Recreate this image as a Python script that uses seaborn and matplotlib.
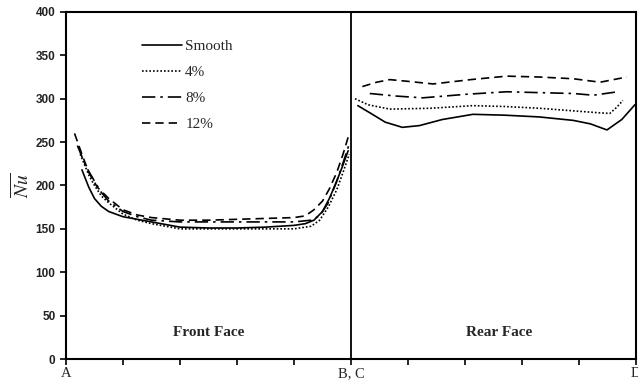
import numpy as np
import pandas as pd
import matplotlib
matplotlib.use("Agg")
import matplotlib.pyplot as plt
import seaborn as sns

sns.set_style("white")
plt.rcParams['mathtext.fontset'] = 'stix'

# ---- data (x in units along surface: A=0, B/C=5, D=10) ----
front_smooth_x = [0.28, 0.4, 0.5, 0.62, 0.75, 1.0, 1.25, 1.5, 2.0, 2.5, 3.0, 3.5, 4.0, 4.2, 4.35, 4.5, 4.62, 4.75, 4.85, 4.95]
front_smooth_y = [218, 198, 185, 176, 170, 164, 161, 158, 152, 151, 151, 152, 154, 156, 160, 170, 185, 205, 222, 240]
front_4_x = [0.25, 0.4, 0.5, 0.62, 0.75, 1.0, 1.25, 1.5, 2.0, 2.5, 3.0, 3.5, 4.0, 4.3, 4.45, 4.6, 4.75, 4.86, 4.97]
front_4_y = [236, 212, 200, 188, 180, 167, 160, 156, 150, 150, 150, 150, 150, 153, 160, 175, 195, 215, 236]
front_8_x = [0.2, 0.35, 0.5, 0.62, 0.75, 1.0, 1.25, 1.5, 2.0, 2.5, 3.0, 3.5, 4.0, 4.3, 4.45, 4.6, 4.75, 4.86, 4.97]
front_8_y = [246, 222, 205, 192, 182, 170, 164, 160, 158, 158, 158, 158, 158, 160, 165, 180, 205, 226, 248]
front_12_x = [0.15, 0.28, 0.4, 0.55, 0.75, 1.0, 1.25, 1.5, 2.0, 2.5, 3.0, 3.5, 4.0, 4.2, 4.35, 4.5, 4.62, 4.75, 4.86, 4.97]
front_12_y = [260, 236, 215, 198, 185, 172, 166, 163, 160, 160, 161, 162, 163, 165, 172, 182, 196, 215, 236, 260]

rear_smooth_x = [5.12, 5.35, 5.6, 5.9, 6.2, 6.6, 7.14, 7.7, 8.3, 8.9, 9.2, 9.49, 9.75, 9.98]
rear_smooth_y = [292, 283, 273, 267, 269, 276, 282, 281, 279, 275, 271, 264, 276, 293]
rear_4_x = [5.07, 5.3, 5.68, 6.4, 7.14, 7.7, 8.3, 8.9, 9.3, 9.54, 9.66, 9.77]
rear_4_y = [300, 293, 288, 289, 292, 291, 289, 286, 284, 283, 290, 298]
rear_8_x = [5.33, 5.8, 6.26, 7.0, 7.73, 8.3, 8.9, 9.25, 9.68]
rear_8_y = [306, 303, 301, 305, 308, 307, 306, 304, 308]
rear_12_x = [5.2, 5.45, 5.68, 6.0, 6.44, 7.1, 7.73, 8.3, 8.9, 9.37, 9.84]
rear_12_y = [314, 319, 322, 320, 317, 322, 326, 325, 323, 319, 325]

series_names = ["Smooth", "4%", "8%", "12%"]
tick_labels = {0: "A", 5: "B, C", 10: "D"}

styles = {
    "Smooth": "-",
    "4%": (0, (1, 1.2)),
    "8%": (0, (8, 3, 1.5, 3)),
    "12%": (0, (5, 3)),
}

front = {"Smooth": (front_smooth_x, front_smooth_y), "4%": (front_4_x, front_4_y),
         "8%": (front_8_x, front_8_y), "12%": (front_12_x, front_12_y)}
rear = {"Smooth": (rear_smooth_x, rear_smooth_y), "4%": (rear_4_x, rear_4_y),
        "8%": (rear_8_x, rear_8_y), "12%": (rear_12_x, rear_12_y)}

fig = plt.figure(figsize=(6.38, 3.85), dpi=100)
ax = fig.add_axes([0.1034, 0.0675, 0.8935, 0.9015])

for name in series_names:
    fx, fy = front[name]
    rx, ry = rear[name]
    sns.lineplot(x=fx, y=fy, ax=ax, color="black", linestyle=styles[name],
                 linewidth=1.2, label=name, estimator=None, sort=False)
    sns.lineplot(x=rx, y=ry, ax=ax, color="black", linestyle=styles[name],
                 linewidth=1.2, estimator=None, sort=False, legend=False)

ax.axvline(5, color="black", linewidth=1.3)
ax.set_xlim(0, 10)
ax.set_ylim(0, 400)
ax.set_xticks(range(11))
ax.set_xticklabels([tick_labels.get(i, "") for i in range(11)],
                   fontfamily="Liberation Serif", fontsize=10.5)
ax.set_yticks(range(0, 401, 50))
ax.set_yticklabels([str(v) for v in range(0, 401, 50)],
                   fontfamily="Liberation Sans", fontweight="bold", fontsize=8.5, color="#222222")
ax.tick_params(axis="both", direction="out", length=4, width=1.2, color="black",
               bottom=True, left=True)
ax.tick_params(axis="x", pad=2)
for s in ax.spines.values():
    s.set_visible(True)
    s.set_color("black")
    s.set_linewidth(1.5)

ax.set_xlabel("")
ax.set_ylabel(r"$\overline{Nu}$", fontsize=14, labelpad=2)

ax.text(2.5, 30, "Front Face", ha="center", va="center",
        fontfamily="Liberation Serif", fontweight="bold", fontsize=11)
ax.text(7.6, 31, "Rear Face", ha="center", va="center",
        fontfamily="Liberation Serif", fontweight="bold", fontsize=11)

leg = ax.legend(loc="upper left", bbox_to_anchor=(0.11, 0.96), frameon=False,
                prop={"family": "Liberation Serif", "size": 11},
                handlelength=2.6, handletextpad=0.2, labelspacing=0.8)

fig.savefig("out.png", dpi=100)
